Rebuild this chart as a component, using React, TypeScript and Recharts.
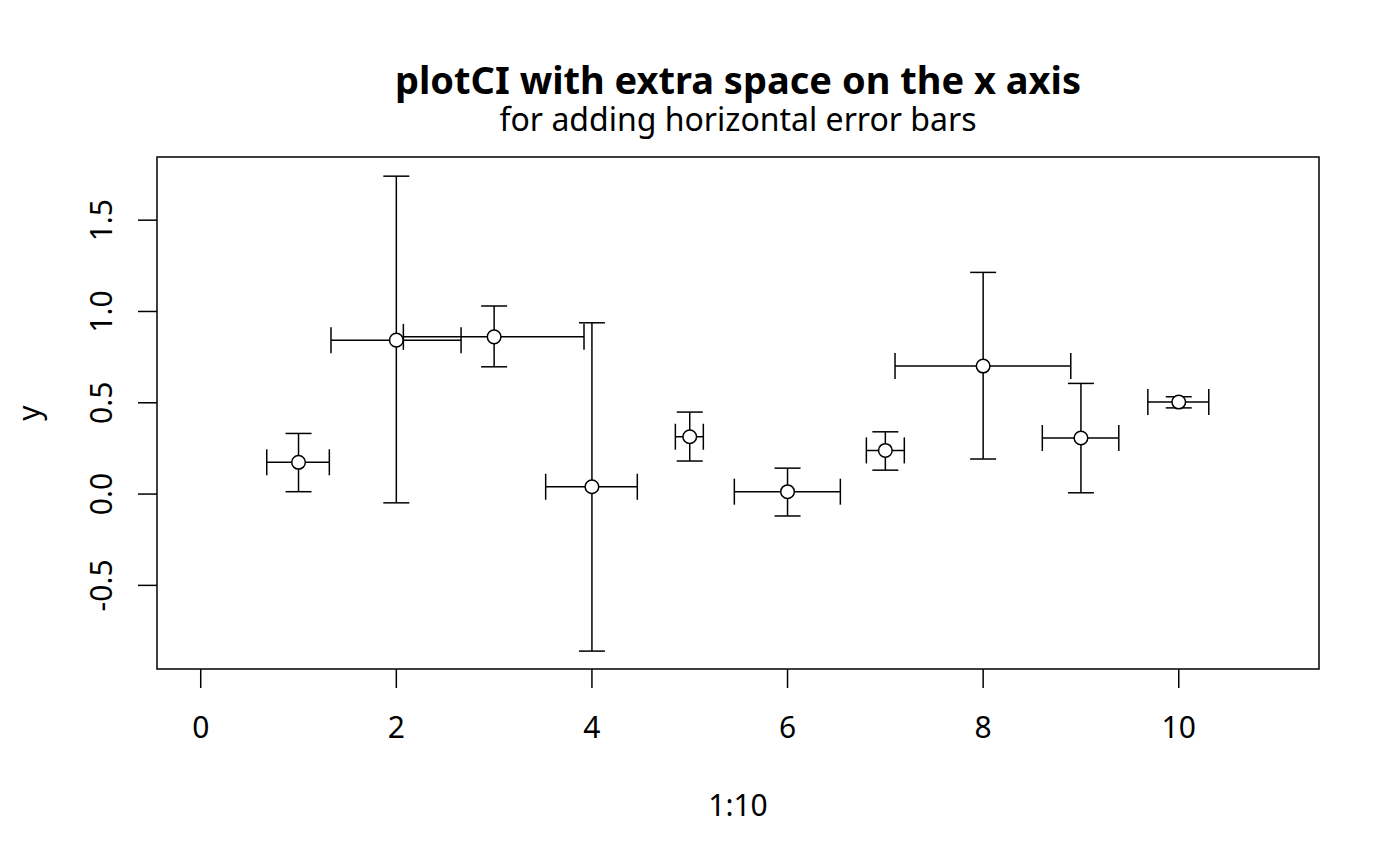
import React from 'react';
import { ScatterChart, Scatter, XAxis, YAxis, ErrorBar, ReferenceArea } from 'recharts';

// values
const xs = [1, 2, 3, 4, 5, 6, 7, 8, 9, 10];
const yVals = [0.174, 0.843, 0.861, 0.04, 0.314, 0.013, 0.239, 0.701, 0.307, 0.504];
const yLower = [0.013, -0.048, 0.697, -0.86, 0.181, -0.12, 0.131, 0.192, 0.007, 0.472];
const yUpper = [0.332, 1.741, 1.03, 0.938, 0.449, 0.142, 0.341, 1.214, 0.606, 0.533];
const xLower = [0.675, 1.332, 2.072, 3.527, 4.853, 5.456, 6.806, 7.099, 8.605, 9.684];
const xUpper = [1.315, 2.662, 3.919, 4.464, 5.139, 6.54, 7.194, 8.896, 9.387, 10.307];

const xTicks = [0, 2, 4, 6, 8, 10];
const yTicks = [-0.5, 0, 0.5, 1, 1.5];

const X_DOMAIN: [number, number] = [-0.447, 11.434];
const Y_DOMAIN: [number, number] = [-0.958, 1.846];

const FONT = '"Noto Sans", "Open Sans", sans-serif';

const data = xs.map((x, i) => ({
  x,
  y: yVals[i],
  yErr: [yVals[i] - yLower[i], yUpper[i] - yVals[i]],
  xErr: [x - xLower[i], xUpper[i] - x],
}));

function Dot(props: any) {
  const { cx, cy } = props;
  return <circle cx={cx} cy={cy} r={6.8} fill="#fff" stroke="#000" strokeWidth={1.5} />;
}

function YTick(props: any) {
  const { x, y, payload } = props;
  return (
    <text
      x={x}
      y={y}
      transform={`rotate(-90, ${x}, ${y})`}
      textAnchor="middle"
      fontSize={30}
      fontFamily={FONT}
      fill="#000"
    >
      {Number(payload.value).toFixed(1)}
    </text>
  );
}

export default function App() {
  return (
    <div style={{ position: 'absolute', left: 0, top: 0, width: 1400, height: 866, background: '#fff' }}>
      <ScatterChart width={1400} height={866} margin={{ top: 157, right: 81, bottom: 0, left: 0 }}>
        <XAxis
          type="number"
          dataKey="x"
          domain={X_DOMAIN}
          ticks={xTicks}
          allowDataOverflow
          height={197}
          axisLine={false}
          tickSize={19}
          tickMargin={29}
          tickLine={{ stroke: '#000', strokeWidth: 1.5 }}
          tick={{ fontSize: 30, fontFamily: FONT, fill: '#000' }}
        />
        <YAxis
          type="number"
          dataKey="y"
          domain={Y_DOMAIN}
          ticks={yTicks}
          allowDataOverflow
          width={157}
          axisLine={false}
          tickSize={19}
          tickMargin={26}
          tickLine={{ stroke: '#000', strokeWidth: 1.5 }}
          tick={<YTick />}
        />
        <ReferenceArea
          x1={X_DOMAIN[0]}
          x2={X_DOMAIN[1]}
          y1={Y_DOMAIN[0]}
          y2={Y_DOMAIN[1]}
          fill="none"
          stroke="#000"
          strokeWidth={1.5}
          ifOverflow="visible"
        />
        <Scatter data={data} shape={<Dot />} isAnimationActive={false}>
          <ErrorBar dataKey="yErr" direction="y" width={13} stroke="#000" strokeWidth={1.5} isAnimationActive={false} />
          <ErrorBar dataKey="xErr" direction="x" width={13} stroke="#000" strokeWidth={1.5} isAnimationActive={false} />
        </Scatter>
      </ScatterChart>
      <svg
        width={1400}
        height={866}
        style={{ position: 'absolute', left: 0, top: 0, pointerEvents: 'none' }}
        fontFamily={FONT}
      >
        <text x={738} y={94} textAnchor="middle" fontSize={38} fontWeight="bold" fill="#000">
          plotCI with extra space on the x axis
        </text>
        <text x={738} y={131} textAnchor="middle" fontSize={32} fill="#000">
          for adding horizontal error bars
        </text>
        <text x={738} y={816} textAnchor="middle" fontSize={30} fill="#000">
          1:10
        </text>
        <text x={40} y={413} transform="rotate(-90, 40, 413)" textAnchor="middle" fontSize={30} fill="#000">
          y
        </text>
      </svg>
    </div>
  );
}
